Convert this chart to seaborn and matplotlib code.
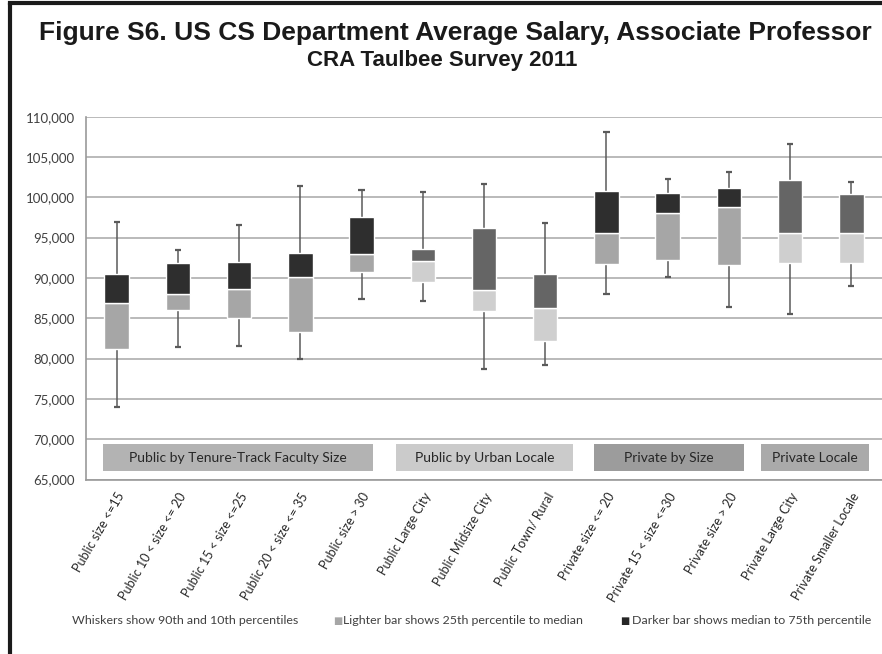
import numpy as np
import matplotlib.pyplot as plt
import seaborn as sns
from matplotlib.patches import Rectangle
from matplotlib.lines import Line2D

# Values (salary, USD)
categories = ['Public size <=15', 'Public 10 < size <= 20', 'Public 15 < size <=25',
              'Public 20 < size <= 35', 'Public size > 30', 'Public Large City',
              'Public Midsize City', 'Public Town/ Rural', 'Private size <= 20',
              'Private 15 < size <=30', 'Private size > 20', 'Private Large City',
              'Private Smaller Locale']
p10 = [74000, 81400, 81600, 80000, 87350, 87100, 78750, 79250, 88050, 90100, 86400, 85550, 89050]
p25 = [81150, 86050, 85000, 83350, 90750, 89450, 85850, 82200, 91750, 92250, 91600, 91900, 91800]
p50 = [86950, 87950, 88650, 90100, 93000, 92150, 88450, 86250, 95600, 98000, 98750, 95600, 95600]
p75 = [90550, 91800, 91950, 93100, 97550, 93550, 96200, 90450, 100750, 100500, 101150, 102100, 100400]
p90 = [96950, 93450, 96550, 101450, 100850, 100700, 101700, 96800, 108150, 102300, 103100, 106550, 101900]

group_names = ['Public by Tenure-Track Faculty Size', 'Public by Urban Locale',
               'Private by Size', 'Private Locale']
group_of = [0, 0, 0, 0, 0, 1, 1, 1, 2, 2, 2, 3, 3]

legend_texts = ['Whiskers show 90th and 10th percentiles',
                'Lighter bar shows 25th percentile to median',
                'Darker bar shows median to 75th percentile']

sns.set_style('white')
plt.rcParams['font.family'] = ['Lato', 'DejaVu Sans']

# colours per group: (lower segment, upper segment)
seg_colors = {0: ('#a6a6a6', '#2e2e2e'), 1: ('#cfcfcf', '#656565'),
              2: ('#a6a6a6', '#2e2e2e'), 3: ('#cfcfcf', '#656565')}
light = [seg_colors[g][0] for g in group_of]
dark = [seg_colors[g][1] for g in group_of]

p10, p25, p50, p75, p90 = map(np.array, (p10, p25, p50, p75, p90))
x = np.arange(len(categories))

fig = plt.figure(figsize=(8.82, 6.54), dpi=100)
ax = fig.add_axes([0.0975, 0.2668, 0.9025, 0.5548])

# whiskers
ax.vlines(x, p10, p90, color='#5a5a5a', lw=1.1, zorder=2)
ax.hlines(np.concatenate([p10, p90]), np.concatenate([x, x]) - 0.05,
          np.concatenate([x, x]) + 0.05, color='#5a5a5a', lw=1.6, zorder=2)

# boxes
ax.bar(x, p50 - p25, bottom=p25, width=0.4, color=light, zorder=3)
ax.bar(x, p75 - p50, bottom=p50, width=0.4, color=dark, zorder=3)

# group label boxes
group_spans = [(-0.23, 4.19, '#b3b3b3'), (4.57, 7.45, '#cbcbcb'),
               (7.80, 10.25, '#9c9c9c'), (10.52, 12.29, '#aaaaaa')]
for (x0, x1, c), name in zip(group_spans, group_names):
    ax.add_patch(Rectangle((x0, 66000), x1 - x0, 3400, facecolor=c,
                           edgecolor='none', zorder=3))
    ax.text((x0 + x1) / 2, 67700, name, ha='center', va='center',
            fontsize=10, color='#262626', zorder=4)

ax.set_ylim(65000, 110000)
ax.set_xlim(-0.5, len(categories) - 0.5)
ax.set_yticks(np.arange(65000, 110001, 5000))
ax.set_yticklabels([f'{v:,}' for v in range(65000, 110001, 5000)])
ax.yaxis.grid(True, color='#b4b4b4', lw=1.3, zorder=0)
ax.set_axisbelow(True)

ax.set_xticks(x)
ax.set_xticklabels(categories, rotation=60, ha='right', rotation_mode='anchor')
ax.set_xticks(np.arange(len(categories) + 1) - 0.5, minor=True)
ax.tick_params(axis='x', which='major', length=0, pad=8, labelsize=9, labelcolor='#262626')
ax.tick_params(axis='x', which='minor', length=4, color='#9a9a9a', direction='inout')
ax.tick_params(axis='y', length=0, pad=8, labelsize=9.5, labelcolor='#404040')

for s in ['top', 'right']:
    ax.spines[s].set_visible(False)
for s in ['left', 'bottom']:
    ax.spines[s].set_color('#9a9a9a')
    ax.spines[s].set_linewidth(1.2)

# titles
fig.text(0.516, 0.949, 'Figure S6. US CS Department Average Salary, Associate Professor',
         ha='center', va='center', fontsize=19, fontweight='bold',
         family=['Liberation Sans', 'DejaVu Sans'], color='#1a1a1a')
fig.text(0.501, 0.908, 'CRA Taulbee Survey 2011', ha='center', va='center',
         fontsize=16, fontweight='bold', family=['Liberation Sans', 'DejaVu Sans'],
         color='#1a1a1a')

# bottom legend
ly = 1 - 621 / 654
fig.text(72 / 882, ly, legend_texts[0], ha='left', va='center',
         fontsize=8.9, color='#404040')
fig.text(333 / 882, ly, '■', ha='left', va='center', fontsize=7,
         color='#a6a6a6', family=['DejaVu Sans'])
fig.text(343 / 882, ly, legend_texts[1], ha='left', va='center',
         fontsize=8.9, color='#404040')
fig.text(620 / 882, ly, '■', ha='left', va='center', fontsize=7,
         color='#262626', family=['DejaVu Sans'])
fig.text(632 / 882, ly, legend_texts[2], ha='left', va='center',
         fontsize=8.9, color='#404040')

# outer frame: only left and top edges show in the crop
fig.add_artist(Line2D([9.5 / 882, 9.5 / 882], [0, 1 - 3 / 654], transform=fig.transFigure,
                      color='#1a1a1a', lw=3))
fig.add_artist(Line2D([9.5 / 882, 1], [1 - 3 / 654, 1 - 3 / 654], transform=fig.transFigure,
                      color='#1a1a1a', lw=3, solid_capstyle='projecting'))

fig.savefig('out.png', dpi=100)
